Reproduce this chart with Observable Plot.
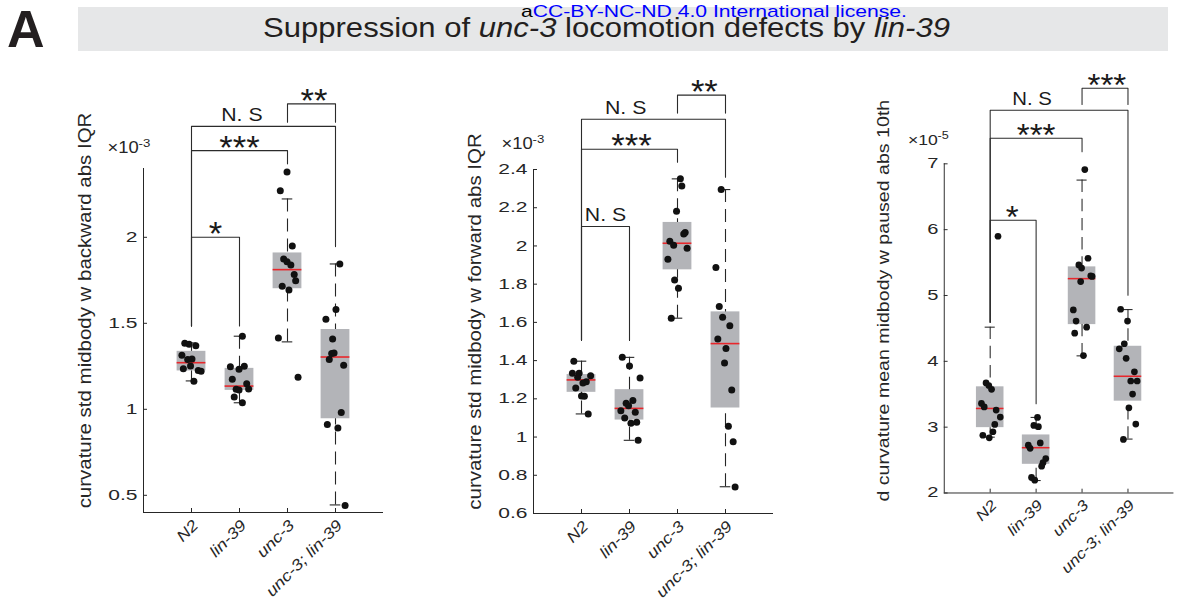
<!DOCTYPE html>
<html>
<head>
<meta charset="utf-8">
<script src="https://cdn.jsdelivr.net/npm/d3@7"></script>
<script src="https://cdn.jsdelivr.net/npm/@observablehq/plot@0.6"></script>
<style>
  body { margin: 0; background: #fff; overflow: hidden; }
  #figure { position: relative; width: 1183px; height: 599px; overflow: hidden; font-family: "Liberation Sans", Arial, sans-serif; }
  .panel { position: absolute; }
</style>
</head>
<body>
<div id="figure">
  <svg id="header" width="1183" height="60" style="position:absolute;left:0;top:0" font-family="'Liberation Sans', Arial, sans-serif">
    <text x="7" y="47" font-size="52" font-weight="bold" fill="#231f20">A</text>
    <rect x="78" y="7" width="1090" height="44" fill="#e6e7e8"></rect>
    <text x="263" y="37" font-size="27" fill="#231f20" textLength="687" lengthAdjust="spacingAndGlyphs">Suppression of <tspan font-style="italic">unc-3</tspan> locomotion defects by <tspan font-style="italic">lin-39</tspan></text>
    <text x="521" y="16.5" font-size="17" textLength="386" lengthAdjust="spacingAndGlyphs"><tspan fill="#000">a</tspan><tspan fill="#0000ff">CC-BY-NC-ND 4.0 International license.</tspan></text>
  </svg>
</div>
<script>
// Strains, in plotting order
const groups = ["N2", "lin-39", "unc-3", "unc-3; lin-39"];

// Curvature std, midbody, backward, abs IQR (x 10^-3), one list per strain
const backwardValues = [
  [1.384, 1.378, 1.369, 1.314, 1.289, 1.293, 1.252, 1.236, 1.225, 1.221, 1.163],
  [1.425, 1.248, 1.233, 1.250, 1.174, 1.149, 1.116, 1.112, 1.118, 1.071, 1.038],
  [2.379, 2.270, 1.949, 1.874, 1.858, 1.839, 1.784, 1.747, 1.716, 1.693, 1.415, 1.186],
  [1.845, 1.580, 1.524, 1.409, 1.328, 1.324, 1.289, 1.256, 0.982, 0.912, 0.891, 0.440]
];
const backwardJitter = [
  [-0.14, -0.05, 0.09, -0.20, -0.08, 0.01, -0.02, -0.17, 0.14, 0.20, 0.05],
  [0.06, -0.19, -0.01, 0.10, -0.15, 0.15, -0.07, -0.01, 0.19, -0.11, 0.06],
  [-0.01, -0.15, 0.10, -0.08, -0.01, 0.07, 0.14, 0.17, -0.11, 0.03, -0.19, 0.22],
  [0.09, 0.01, -0.20, -0.06, -0.03, -0.08, -0.13, 0.17, 0.12, -0.17, 0.05, 0.20]
];
// [lower whisker, q1, median, q3, upper whisker]
const backwardBoxes = [
  [1.165, 1.223, 1.271, 1.337, 1.386],
  [1.038, 1.110, 1.135, 1.238, 1.425],
  [1.392, 1.701, 1.812, 1.909, 2.223],
  [0.444, 0.945, 1.304, 1.464, 1.845]
];
// [strain a, strain b, bar level, leg end a, leg end b, label, label position]
const backwardBrackets = [
  [1, 2, 2.000, 1.485, 1.485, "*", 1.5],
  [1, 3, 2.504, 1.485, 2.427, "***", 2.0],
  [1, 4, 2.645, 1.485, 1.946, "N. S", 2.05],
  [3, 4, 2.776, 2.669, 2.669, "**", 3.55]
];

// Curvature std, midbody, forward, abs IQR (x 10^-3)
const forwardValues = [
  [1.397, 1.334, 1.334, 1.321, 1.313, 1.290, 1.283, 1.257, 1.215, 1.213, 1.121],
  [1.417, 1.372, 1.309, 1.191, 1.177, 1.164, 1.138, 1.130, 1.100, 1.077, 1.072, 0.983],
  [2.351, 2.314, 2.182, 2.070, 2.063, 2.025, 2.004, 1.988, 1.931, 1.822, 1.779, 1.622],
  [2.295, 1.887, 1.683, 1.627, 1.583, 1.513, 1.463, 1.388, 1.246, 1.056, 0.976, 0.739]
];
const forwardJitter = [
  [-0.16, -0.19, -0.05, 0.19, -0.08, 0.10, 0.03, -0.12, 0.00, 0.06, 0.14],
  [-0.15, 0.00, 0.22, 0.07, -0.07, -0.02, -0.18, 0.12, -0.10, 0.15, 0.03, 0.18],
  [0.06, 0.09, -0.02, 0.16, 0.13, -0.16, -0.08, 0.20, -0.20, -0.06, 0.02, -0.13],
  [-0.09, -0.20, -0.13, -0.06, 0.09, -0.16, 0.01, -0.02, 0.13, 0.06, 0.16, 0.20]
];
const forwardBoxes = [
  [1.121, 1.234, 1.299, 1.327, 1.397],
  [0.983, 1.089, 1.150, 1.248, 1.417],
  [1.622, 1.875, 2.014, 2.123, 2.351],
  [0.740, 1.152, 1.489, 1.655, 2.295]
];
const forwardBrackets = [
  [1, 2, 2.102, 1.505, 1.505, "N. S", 1.5],
  [1, 3, 2.506, 1.505, 2.438, "***", 2.04],
  [1, 4, 2.663, 1.505, 2.360, "N. S", 1.92],
  [3, 4, 2.789, 2.695, 2.695, "**", 3.56]
];

// d curvature mean, midbody, paused, abs 10th percentile (x 10^-5)
const pausedValues = [
  [5.900, 3.672, 3.633, 3.575, 3.361, 3.308, 3.260, 3.153, 3.042, 2.930, 2.877, 2.838],
  [3.148, 3.027, 3.008, 2.761, 2.727, 2.678, 2.523, 2.460, 2.407, 2.237, 2.194],
  [6.913, 5.566, 5.464, 5.416, 5.299, 5.290, 5.212, 4.781, 4.611, 4.519, 4.427, 4.088],
  [4.791, 4.611, 4.267, 4.190, 4.045, 3.841, 3.701, 3.701, 3.502, 3.294, 3.047, 2.814]
];
const pausedJitter = [
  [0.17, -0.09, -0.03, 0.03, -0.19, -0.13, 0.13, 0.22, 0.10, 0.06, -0.16, -0.02],
  [0.03, -0.05, 0.05, 0.09, -0.17, -0.13, 0.21, 0.15, 0.12, -0.10, -0.03],
  [0.06, 0.13, -0.07, -0.01, 0.19, 0.22, -0.03, -0.19, -0.13, 0.10, -0.16, 0.03],
  [-0.16, -0.01, -0.08, -0.19, -0.04, 0.14, 0.06, 0.20, 0.10, 0.02, 0.17, -0.10]
];
const pausedBoxes = [
  [2.848, 2.993, 3.284, 3.613, 4.519],
  [2.189, 2.436, 2.688, 2.882, 3.148],
  [4.083, 4.558, 5.256, 5.435, 6.753],
  [2.819, 3.395, 3.773, 4.229, 4.786]
];
const pausedBrackets = [
  [1, 2, 6.142, 4.593, 3.357, "*", 1.48],
  [1, 3, 7.388, 4.593, 7.185, "***", 2.0],
  [1, 4, 7.814, 4.593, 5.004, "N. S", 1.91],
  [3, 4, 8.148, 7.901, 7.901, "***", 3.54]
];

// Axis text
const yLabels = [
  "curvature std midbody w backward abs IQR",
  "curvature std midbody w forward abs IQR",
  "d curvature mean midbody w paused abs 10th"
];
const yExponents = ["-3", "-3", "-5"];
const yDomains = [[0.4, 2.4], [0.6, 2.4], [2, 7]];
const yTicks = [
  [0.5, 1, 1.5, 2],
  [0.6, 0.8, 1, 1.2, 1.4, 1.6, 1.8, 2, 2.2, 2.4],
  [2, 3, 4, 5, 6, 7]
];

// Layout of the three panels on the page
const FRAME_W = 240, FRAME_H = 344;
const layout = [
  {left: 40, top: 60, marginLeft: 103, labelDx: -58, labelDy: -30, expDx: -36, expDy: -16},
  {left: 440, top: 61, marginLeft: 93, labelDx: -58, labelDy: -20, expDx: -32, expDy: -21},
  {left: 850, top: 60, marginLeft: 98, labelDx: -63, labelDy: -29, expDx: -38, expDy: -20}
];

// Horizontal widening applied to text, keyed by font size
const widen = {"14.5": 1.45, "15.5": 1.18, "17.5": 1.17, "18.5": 1.15, "33": 1.05, "16": 1.15, "11.5": 1.15};

const INK = "#262626";

function drawPanel(k, values, jitter, boxes, brackets) {
  const L = layout[k];
  const domain = yDomains[k];
  const pos = groups.map((g, i) => i + 1);
  const dots = values.flatMap((vals, i) => vals.map((v, j) => ({x: pos[i] + jitter[i][j], y: v})));
  const stats = boxes.map(([lo, q1, med, q3, hi], i) => ({x: pos[i], lo, q1, med, q3, hi}));
  const legs = brackets.flatMap(([a, b, top, lowA, lowB], id) => [
    {id, x: a, y: lowA}, {id, x: a, y: top}, {id, x: b, y: top}, {id, x: b, y: lowB}
  ]);
  const notes = brackets.map(([a, b, top, lowA, lowB, text, at]) => ({x: at, y: top, text}));
  const stars = notes.filter(d => d.text.startsWith("*"));
  const ns = notes.filter(d => !d.text.startsWith("*"));

  const svg = Plot.plot({
    width: L.marginLeft + FRAME_W + 10,
    height: 539,
    marginLeft: L.marginLeft,
    marginRight: 10,
    marginTop: 108,
    marginBottom: 87,
    x: {domain: [0, 5], axis: null},
    y: {domain, nice: false},
    style: {background: "transparent", fontFamily: "'Liberation Sans', Arial, sans-serif", color: INK, overflow: "visible"},
    marks: [
      // axes
      Plot.axisY({ticks: yTicks[k], tickSize: 0, tickPadding: 6, fontSize: 14.5, label: null, tickFormat: d => String(d)}),
      Plot.ruleY(yTicks[k], {y: d => d, insetRight: FRAME_W - 4, stroke: INK}),
      Plot.ruleX(pos, {x: d => d, insetTop: FRAME_H - 4, stroke: INK}),
      Plot.ruleX([0], {stroke: INK}),
      Plot.ruleY([domain[0]], {stroke: INK}),
      // significance brackets
      Plot.line(legs, {x: "x", y: "y", z: "id", stroke: "#2b2b2b", strokeWidth: 1.1}),
      Plot.text(stars, {x: "x", y: "y", text: "text", fontSize: 33, lineAnchor: "bottom", dy: 8, fill: "#1a1a1a"}),
      Plot.text(ns, {x: "x", y: "y", text: "text", fontSize: 18.5, lineAnchor: "bottom", dy: -5, fill: "#1a1a1a"}),
      // boxes, medians, whiskers
      Plot.rect(stats, {x1: d => d.x - 0.3, x2: d => d.x + 0.3, y1: "q1", y2: "q3", fill: "#b3b4b8"}),
      Plot.ruleY(stats, {x1: d => d.x - 0.3, x2: d => d.x + 0.3, y: "med", stroke: "#e8262b", strokeWidth: 1.6}),
      Plot.ruleX(stats, {x: "x", y1: "hi", y2: "q3", stroke: INK, strokeWidth: 1.1, strokeDasharray: "13,7"}),
      Plot.ruleX(stats, {x: "x", y1: "lo", y2: "q1", stroke: INK, strokeWidth: 1.1, strokeDasharray: "13,7"}),
      Plot.ruleY(stats, {x1: d => d.x - 0.11, x2: d => d.x + 0.11, y: "hi", stroke: INK, strokeWidth: 1.1}),
      Plot.ruleY(stats, {x1: d => d.x - 0.11, x2: d => d.x + 0.11, y: "lo", stroke: INK, strokeWidth: 1.1}),
      // individual animals
      Plot.dot(dots, {x: "x", y: "y", r: 3.5, fill: "#111", stroke: null}),
      // strain labels
      Plot.text(groups, {x: (d, i) => pos[i], text: d => d, frameAnchor: "bottom", rotate: -45, textAnchor: "end", lineAnchor: "top", dy: 6, fontSize: 15.5, fontStyle: "italic", fill: INK}),
      // y label and exponent
      Plot.text([yLabels[k]], {text: d => d, frameAnchor: "left", rotate: -90, textAnchor: "middle", lineAnchor: "middle", dx: L.labelDx, dy: L.labelDy, fontSize: 17.5, fill: INK}),
      Plot.text(["\u00d710"], {text: d => d, frameAnchor: "top-left", textAnchor: "start", lineAnchor: "bottom", dx: L.expDx, dy: L.expDy, fontSize: 16, fill: INK}),
      Plot.text([yExponents[k]], {text: d => d, frameAnchor: "top-left", textAnchor: "start", lineAnchor: "bottom", dx: L.expDx + 31, dy: L.expDy - 6, fontSize: 11.5, fill: INK})
    ]
  });

  const holder = document.createElement("div");
  holder.className = "panel";
  holder.style.left = L.left + "px";
  holder.style.top = L.top + "px";
  holder.append(svg);
  document.getElementById("figure").append(holder);

  // widen glyphs along each text's own baseline, about its anchor point
  svg.querySelectorAll("text").forEach(t => {
    const host = t.closest("[font-size]");
    const f = widen[host ? host.getAttribute("font-size") : ""];
    if (!f) return;
    const tx = parseFloat(t.getAttribute("x")) || 0;
    const base = t.getAttribute("transform") || "";
    t.removeAttribute("x");
    t.setAttribute("transform", `${base} translate(${tx},0) scale(${f},1)`);
  });
}

drawPanel(0, backwardValues, backwardJitter, backwardBoxes, backwardBrackets);
drawPanel(1, forwardValues, forwardJitter, forwardBoxes, forwardBrackets);
drawPanel(2, pausedValues, pausedJitter, pausedBoxes, pausedBrackets);
</script>
</body>
</html>
